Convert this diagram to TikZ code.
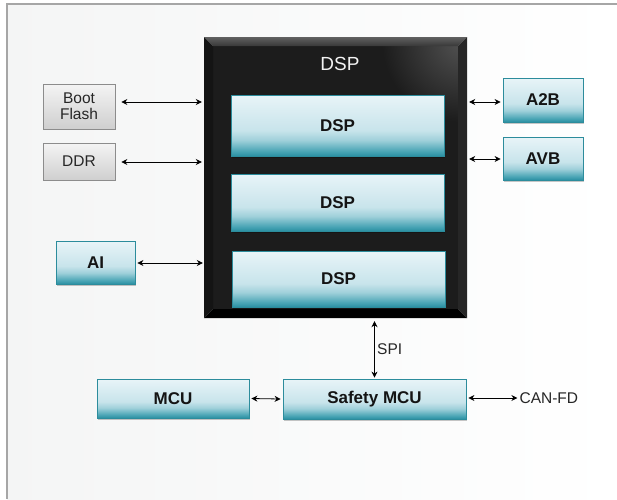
\documentclass[tikz,border=0pt]{standalone}
\usepackage{fontspec}
\setmainfont{Liberation Sans}
\usetikzlibrary{arrows.meta,shadows,calc}
\definecolor{tealD}{HTML}{2A8FA2}
\definecolor{tealM2}{HTML}{4AA5B5}
\definecolor{tealM}{HTML}{9FD0DA}
\definecolor{tealL2}{HTML}{C8E4EB}
\definecolor{tealL}{HTML}{E8F4F8}
\definecolor{tealB}{HTML}{2C8C9C}
\definecolor{grayT}{HTML}{F4F4F4}
\definecolor{grayB}{HTML}{CFCFCF}
\definecolor{grayE}{HTML}{8C8C8C}
\definecolor{framec}{HTML}{A6A6A6}
\definecolor{bgc}{HTML}{F9FAFA}
\definecolor{panel}{HTML}{1C1C1C}
\pgfdeclareverticalshading{tealsh}{100bp}{color(0bp)=(tealD); color(25bp)=(tealD); color(29bp)=(tealM2); color(38bp)=(tealM); color(46bp)=(tealL2); color(75bp)=(tealL); color(100bp)=(tealL)}
\begin{document}
\begin{tikzpicture}[x=1pt,y=-1pt,
  tealbox/.style={draw=tealB, line width=0.8pt, shading=tealsh, inner sep=0pt,
    font=\bfseries\fontsize{17}{20}\selectfont, text=black!92,
    drop shadow={shadow xshift=1.2pt,shadow yshift=-1.5pt,opacity=0.22,fill=black}},
  graybox/.style={draw=grayE, line width=0.7pt, top color=grayT, bottom color=grayB,
    inner sep=0pt, align=center, font=\fontsize{15.5}{16}\selectfont, text=black!85},
  lbl/.style={font=\fontsize{15.5}{18}\selectfont, text=black!85, inner sep=0pt},
  arr/.style={{Stealth[length=6pt,width=6pt]}-{Stealth[length=6pt,width=6pt]}, line width=0.8pt, black}
]
\useasboundingbox (0,0) rectangle (617,499);
\fill[white] (0,0) rectangle (617,499);
\shade[left color=bgc!96!gray, right color=white] (7,4) rectangle (617,499);
\draw[framec, line width=2pt] (7,499) -- (7,4) -- (617,4);

% big DSP box
\node[inner sep=0pt, minimum width=263pt, minimum height=281pt] (dsp) at (335.5,177.5) {};
\fill[panel] (213,46) rectangle (458,309);
\begin{scope}
  \clip (213,46) rectangle (458,309);
  \shade[inner color=black!68, outer color=panel] (462,42) circle (80);
\end{scope}
\shade[top color=black!62, bottom color=black!78] (204,37) -- (467,37) -- (458,46) -- (213,46) -- cycle;
\fill[black!92] (204,37) -- (213,46) -- (213,309) -- (204,318) -- cycle;
\fill[black!85] (467,37) -- (458,46) -- (458,309) -- (467,318) -- cycle;
\fill[black] (204,318) -- (213,309) -- (458,309) -- (467,318) -- cycle;
\node[font=\fontsize{19}{22}\selectfont, text=white!95!black, inner sep=0pt] (dsptitle) at (340,64) {DSP};

\node[tealbox, minimum width=213pt, minimum height=61pt] (dsp1) at (337.5,125.5) {DSP};
\node[tealbox, minimum width=213pt, minimum height=57pt] (dsp2) at (337.5,202.5) {DSP};
\node[tealbox, minimum width=213pt, minimum height=56pt] (dsp3) at (338.5,279) {DSP};

% side boxes
\node[graybox, minimum width=72pt, minimum height=45pt] (boot) at (79,106.5) {Boot\\Flash};
\node[graybox, minimum width=72pt, minimum height=37pt] (ddr) at (79,161.5) {DDR};
\node[tealbox, minimum width=80pt, minimum height=44pt] (a2b) at (543,100) {A2B};
\node[tealbox, minimum width=80pt, minimum height=43pt] (avb) at (543,158.5) {AVB};
\node[tealbox, minimum width=79pt, minimum height=43pt] (ai) at (95.5,262.5) {AI};
\node[tealbox, minimum width=152pt, minimum height=39pt] (mcu) at (173,398.5) {MCU};
\node[tealbox, minimum width=183pt, minimum height=40pt] (smcu) at (374.5,399) {Safety MCU};

% connectors
\draw[arr] ($(boot.east)+(6,-4.5)$) -- ($(boot.east -| dsp.west)+(-2,-4.5)$);
\draw[arr] ($(ddr.east)+(6,0.5)$) -- ($(ddr.east -| dsp.west)+(-2,0.5)$);
\draw[arr] ($(a2b.west -| dsp.east)+(2,2)$) -- ($(a2b.west)+(-2,2)$);
\draw[arr] ($(avb.west -| dsp.east)+(2,0.5)$) -- ($(avb.west)+(-2,0.5)$);
\draw[arr] ($(ai.east)+(2,0.5)$) -- ($(ai.east -| dsp.west)+(-1,0.5)$);
\draw[arr] ($(dsp.south -| smcu.north)+(0,3)$) -- ($(smcu.north)+(0,-1)$);
\node[lbl, anchor=west] (spi) at ($(smcu.north)+(2.5,-29)$) {SPI};
\draw[arr] ($(mcu.east)+(2,0)$) -- ($(smcu.west)+(-2,0)$);
\coordinate (canend) at ($(smcu.east)+(51,-1)$);
\draw[arr] ($(smcu.east)+(2,-1)$) -- (canend);
\node[lbl, anchor=west] (can) at ($(canend)+(2,0)$) {CAN-FD};
\end{tikzpicture}
\end{document}
